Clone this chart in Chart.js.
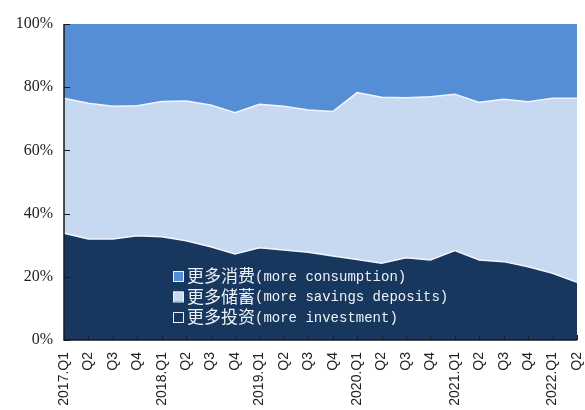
<!DOCTYPE html>
<html>
<head>
<meta charset="utf-8">
<script src="https://cdn.jsdelivr.net/npm/chart.js@4.4.0/dist/chart.umd.min.js"></script>
<style>
  html, body { margin: 0; padding: 0; background: #fff; }
  #wrap { width: 585px; height: 410px; }
</style>
</head>
<body>
<div id="wrap"><canvas id="chart" width="585" height="410"></canvas></div>
<script>
const labels = ['2017.Q1', 'Q2', 'Q3', 'Q4', '2018.Q1', 'Q2', 'Q3', 'Q4', '2019.Q1', 'Q2', 'Q3', 'Q4',
                '2020.Q1', 'Q2', 'Q3', 'Q4', '2021.Q1', 'Q2', 'Q3', 'Q4', '2022.Q1', 'Q2'];
const investment = [33.8, 32.0, 32.0, 33.0, 32.7, 31.4, 29.5, 27.2, 29.2, 28.5, 27.8, 26.6,
                    25.5, 24.3, 26.0, 25.3, 28.3, 25.3, 24.8, 23.2, 21.1, 18.3];
const savings = [42.7, 42.9, 42.0, 41.1, 42.8, 44.2, 44.9, 44.7, 45.4, 45.5, 45.0, 45.7,
                 52.8, 52.5, 50.7, 51.7, 49.5, 49.9, 51.4, 52.2, 55.4, 58.2];
const consumption = [23.5, 25.1, 26.0, 25.9, 24.5, 24.4, 25.6, 28.1, 25.4, 26.0, 27.2, 27.7,
                     21.7, 23.2, 23.3, 23.0, 22.2, 24.8, 23.8, 24.6, 23.5, 23.5];
const yTicks = [0, 20, 40, 60, 80, 100];

const legendItems = [
    { cn: '更多消费', en: '(more consumption)', fill: '#558ed5' },
    { cn: '更多储蓄', en: '(more savings deposits)', fill: '#c6d9f1' },
    { cn: '更多投资', en: '(more investment)', fill: '#17375e' }
];

// axes, inward tick marks and the legend inside the plot
const overlay = {
    id: 'overlay',
    afterDatasetsDraw(chart) {
        const c = chart.ctx;
        const a = chart.chartArea;
        const x = chart.scales.x, y = chart.scales.y;
        c.save();
        c.strokeStyle = '#1a1a1a';
        c.lineWidth = 1.5;
        c.beginPath();
        c.moveTo(a.left, a.top);
        c.lineTo(a.left, a.bottom);
        c.lineTo(a.right, a.bottom);
        c.stroke();
        c.lineWidth = 1;
        yTicks.forEach(v => {
            const py = Math.round(y.getPixelForValue(v)) + 0.5;
            c.beginPath();
            c.moveTo(a.left, py);
            c.lineTo(a.left + 6, py);
            c.stroke();
        });
        labels.forEach((l, i) => {
            const px = Math.round(x.getPixelForValue(i)) + 0.5;
            c.beginPath();
            c.moveTo(px, a.bottom);
            c.lineTo(px, a.bottom - 5);
            c.stroke();
        });

        legendItems.forEach((it, i) => {
            const cy = 276 + i * 20.5;
            c.fillStyle = it.fill;
            c.fillRect(173, cy - 5, 10, 10);
            c.strokeStyle = '#eef2f7';
            c.lineWidth = 1;
            c.strokeRect(173.5, cy - 4.5, 10, 10);
            c.fillStyle = '#eef2f7';
            c.textBaseline = 'middle';
            c.font = '17px "Noto Sans CJK SC"';
            c.fillText(it.cn, 187, cy);
            const w = c.measureText(it.cn).width;
            c.font = '14px "Liberation Mono"';
            c.fillText(it.en, 187 + w, cy + 1);
        });
        c.restore();
    }
};

const ctx = document.getElementById('chart').getContext('2d');
new Chart(ctx, {
    type: 'line',
    data: {
        labels: labels,
        datasets: [
            { label: '更多投资', data: investment, fill: 'origin', backgroundColor: '#17375e',
              borderColor: '#f2f5fa', borderWidth: 1.5 },
            { label: '更多储蓄', data: savings, fill: '-1', backgroundColor: '#c6d9f1',
              borderColor: '#f2f5fa', borderWidth: 1.5 },
            { label: '更多消费', data: consumption, fill: '-1', backgroundColor: '#558ed5',
              borderColor: 'rgba(0,0,0,0)', borderWidth: 0 }
        ]
    },
    options: {
        responsive: false,
        animation: false,
        layout: { padding: { top: 24, right: 8, left: 0, bottom: 0 } },
        elements: { point: { radius: 0 }, line: { tension: 0 } },
        plugins: { legend: { display: false }, tooltip: { enabled: false } },
        scales: {
            x: {
                offset: false,
                grid: { display: false, drawTicks: false },
                border: { display: false },
                ticks: {
                    autoSkip: false, minRotation: 90, maxRotation: 90, padding: 12,
                    color: '#222', font: { family: 'Liberation Sans', size: 14 }
                },
                afterFit(s) {
                    s.height = 70;
                    s.paddingLeft = s.paddingRight = s.paddingTop = s.paddingBottom = 0;
                }
            },
            y: {
                stacked: true,
                min: 0, max: 100,
                grid: { display: false, drawTicks: false },
                border: { display: false },
                ticks: {
                    stepSize: 20, padding: 11, color: '#222',
                    font: { family: 'Liberation Serif', size: 16 },
                    callback: v => v + '%'
                },
                afterFit(s) {
                    s.width = 64;
                    s.paddingLeft = s.paddingRight = s.paddingTop = s.paddingBottom = 0;
                }
            }
        }
    },
    plugins: [overlay]
});
</script>
</body>
</html>
